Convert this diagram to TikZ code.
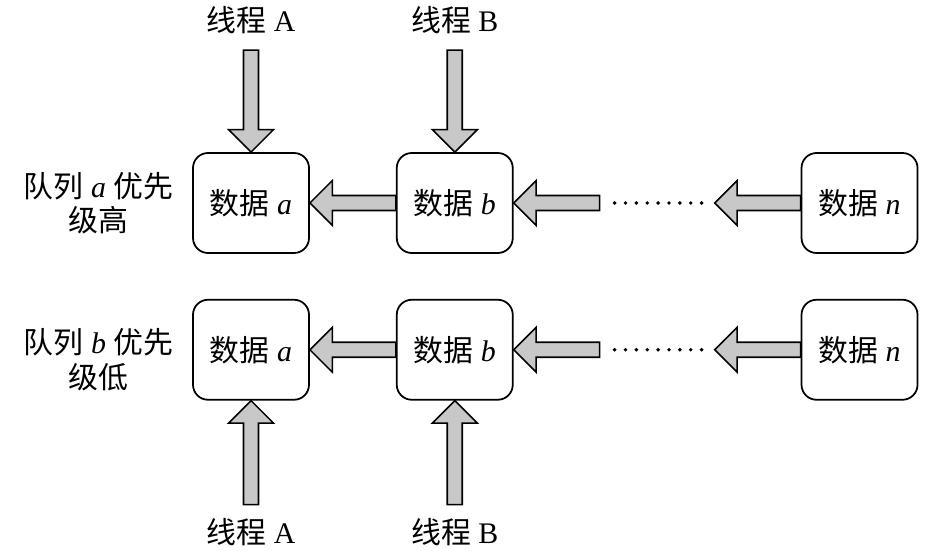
\documentclass[tikz,border=0pt]{standalone}
\usepackage{fontspec}
\setmainfont{Liberation Serif}
\newfontfamily\cjk{Noto Sans CJK SC}
\usepackage{tikz}
\usetikzlibrary{positioning,calc}
\definecolor{arrowgray}{RGB}{200,200,200}

\tikzset{
  databox/.style={draw,line width=1pt,rounded corners=0.3cm,
                  minimum width=2.32cm,minimum height=2cm,
                  font=\fontsize{17}{20}\selectfont},
  lbl/.style={inner sep=2pt,font=\fontsize{17}{19.5}\selectfont},
  blk/.style={draw,line width=0.9pt,fill=arrowgray,line join=miter},
  dotline/.style={line width=2.2pt,line cap=round,
                  dash pattern=on 0pt off 6.19pt}
}
\newcommand\blockarrow[2]{%
  \coordinate (hb) at ($(#2)!0.45cm!(#1)$);
  \draw[blk] ($(#1)!0.15cm!90:(#2)$) -- ($(hb)!0.15cm!90:(#2)$)
    -- ($(hb)!0.45cm!90:(#2)$) -- (#2) -- ($(hb)!0.45cm!-90:(#2)$)
    -- ($(hb)!0.15cm!-90:(#2)$) -- ($(#1)!0.15cm!-90:(#2)$) -- cycle;}

\begin{document}
\begin{tikzpicture}
        \useasboundingbox (0,0) rectangle (18.92,11);
        \node[databox] (a1) at (5.02,6.94) {{\cjk 数据} \textit{a}};
        \node[databox,right=1.72cm of a1] (b1) {{\cjk 数据} \textit{b}};
        \node[databox,right=5.74cm of b1] (n1) {{\cjk 数据} \textit{n}};
        \node[databox,below=0.9cm of a1] (a2) {{\cjk 数据} \textit{a}};
        \node[databox,below=0.9cm of b1] (b2) {{\cjk 数据} \textit{b}};
        \node[databox,below=0.9cm of n1] (n2) {{\cjk 数据} \textit{n}};

        \node[lbl,align=center,left=0.3cm of a1] (qa)
             {{\cjk 队列} \textit{a} {\cjk 优先}\\{\cjk 级高}};
        \node[lbl,align=center,left=0.3cm of a2,yshift=-0.2cm] (qb)
             {{\cjk 队列} \textit{b} {\cjk 优先}\\{\cjk 级低}};

        \coordinate[above=2.04cm of a1.north] (ta);
        \coordinate[above=2.04cm of b1.north] (tb);
        \node[lbl,above=0.25cm of ta] (la) {{\cjk 线程} A};
        \node[lbl,above=0.25cm of tb] (lb) {{\cjk 线程} B};
        \blockarrow{ta}{a1.north}
        \blockarrow{tb}{b1.north}

        \coordinate[below=2.08cm of a2.south] (sa);
        \coordinate[below=2.08cm of b2.south] (sb);
        \node[lbl,below=0.19cm of sa] (ma) {{\cjk 线程} A};
        \node[lbl,below=0.19cm of sb] (mb) {{\cjk 线程} B};
        \blockarrow{sa}{a2.south}
        \blockarrow{sb}{b2.south}

        \coordinate[right=1.72cm of b1.east] (t1);
        \coordinate[left=1.72cm of n1.west] (p1);
        \coordinate[right=2.02cm of b1.east] (d1);
        \coordinate[left=1.96cm of n1.west] (e1);
        \blockarrow{b1.west}{a1.east}
        \blockarrow{t1}{b1.east}
        \blockarrow{n1.west}{p1}
        \draw[dotline] (d1) -- (e1);

        \coordinate[right=1.72cm of b2.east] (t2);
        \coordinate[left=1.72cm of n2.west] (p2);
        \coordinate[right=2.02cm of b2.east] (d2);
        \coordinate[left=1.96cm of n2.west] (e2);
        \blockarrow{b2.west}{a2.east}
        \blockarrow{t2}{b2.east}
        \blockarrow{n2.west}{p2}
        \draw[dotline] (d2) -- (e2);
\end{tikzpicture}
\end{document}
